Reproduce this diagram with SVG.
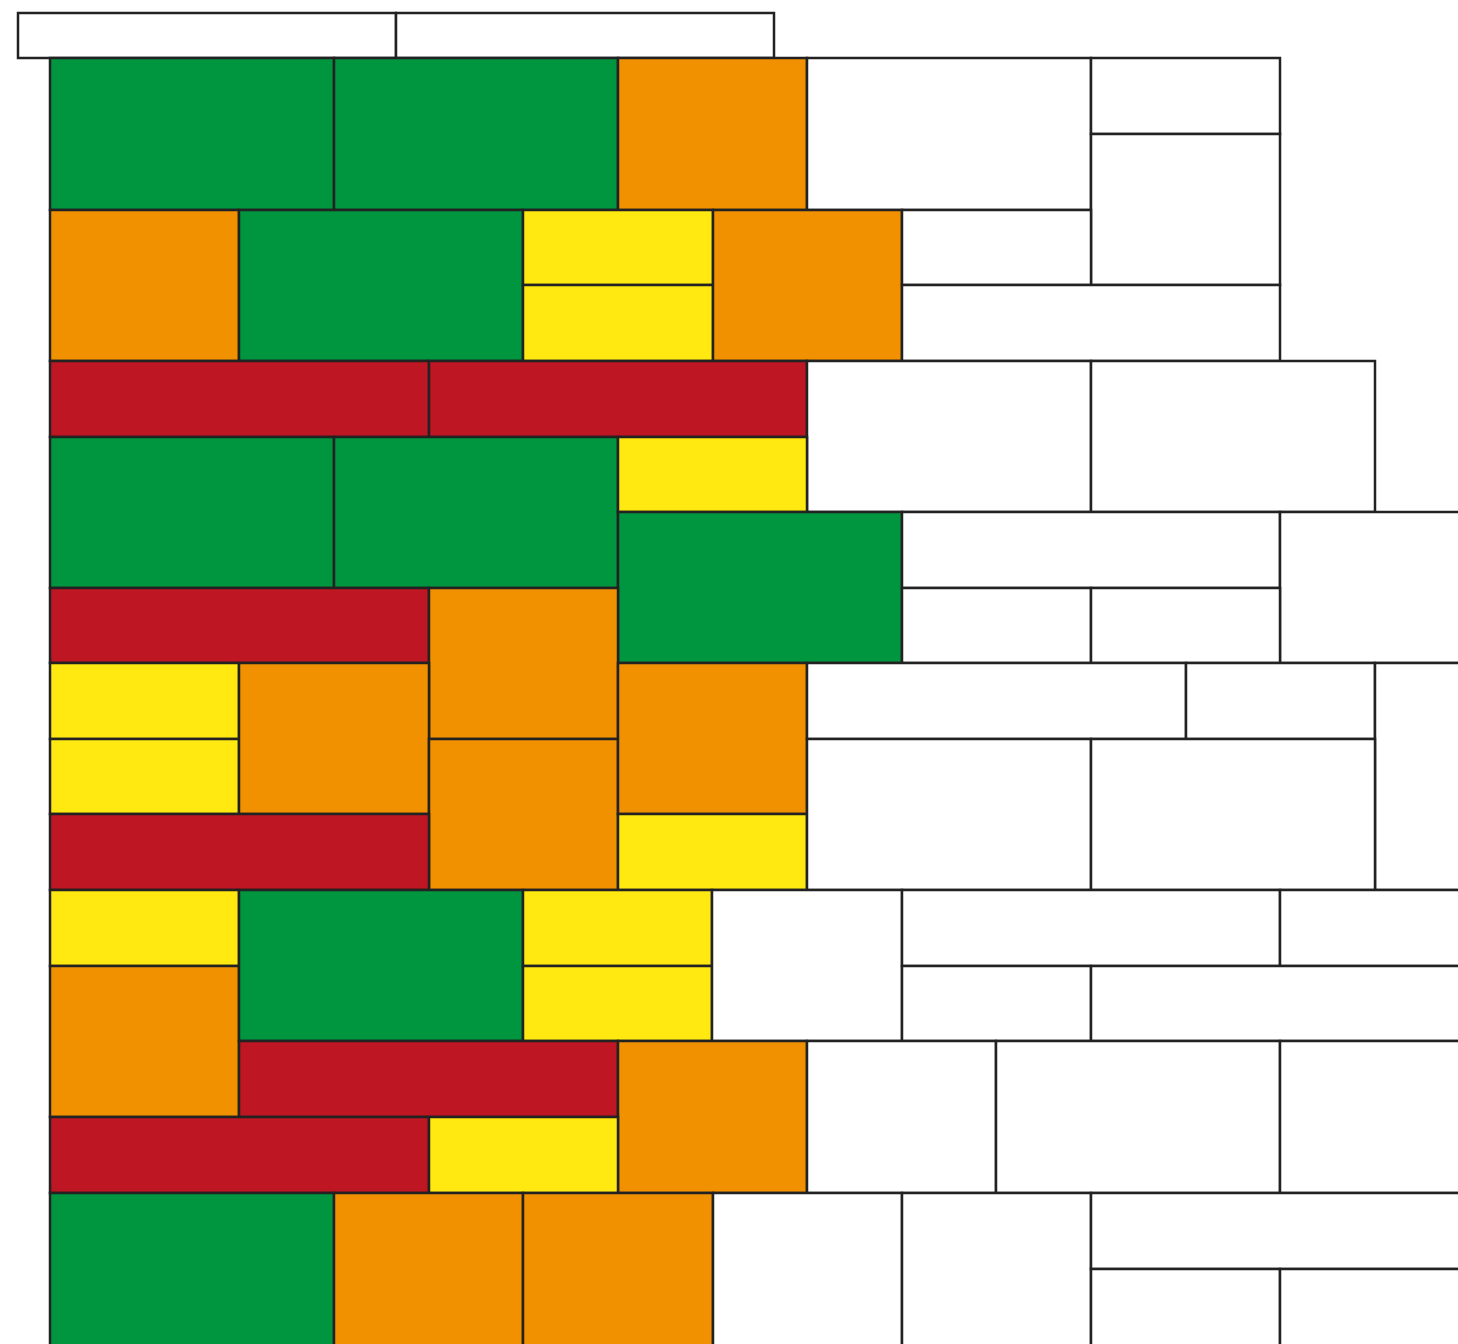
<svg xmlns="http://www.w3.org/2000/svg" width="1458" height="1344" viewBox="0 0 1458 1344">
<style>
rect{stroke:#222;stroke-width:2.5}
.g{fill:#009640}.o{fill:#F29100}.y{fill:#FFE911}.r{fill:#BE1622}.w{fill:#fff}
</style>
<rect width="1458" height="1344" fill="#fff" style="stroke:none"/>
<g id="top">
<rect class="w" x="18" y="13" width="378" height="45"/>
<rect class="w" x="396" y="13" width="378" height="45"/>
</g>
<g id="row1">
<rect class="g" x="50" y="58" width="284" height="152"/>
<rect class="g" x="334" y="58" width="284" height="152"/>
<rect class="o" x="618" y="58" width="189" height="152"/>
<rect class="w" x="807" y="58" width="284" height="152"/>
<rect class="w" x="1091" y="58" width="189" height="76"/>
<rect class="w" x="1091" y="134" width="189" height="151"/>
</g>
<g id="row2">
<rect class="o" x="50" y="210" width="189" height="151"/>
<rect class="g" x="239" y="210" width="284" height="151"/>
<rect class="y" x="523" y="210" width="190" height="75"/>
<rect class="y" x="523" y="285" width="190" height="76"/>
<rect class="o" x="713" y="210" width="189" height="151"/>
<rect class="w" x="902" y="210" width="189" height="75"/>
<rect class="w" x="902" y="285" width="378" height="76"/>
</g>
<g id="row3">
<rect class="r" x="50" y="361" width="379" height="76"/>
<rect class="r" x="429" y="361" width="378" height="76"/>
<rect class="w" x="807" y="361" width="284" height="151"/>
<rect class="w" x="1091" y="361" width="284" height="151"/>
</g>
<g id="row4">
<rect class="g" x="50" y="437" width="284" height="151"/>
<rect class="g" x="334" y="437" width="284" height="151"/>
<rect class="y" x="618" y="437" width="189" height="75"/>
<rect class="g" x="618" y="512" width="284" height="151"/>
<rect class="w" x="902" y="512" width="378" height="76"/>
<rect class="w" x="1280" y="512" width="200" height="151"/>
<rect class="w" x="902" y="588" width="189" height="75"/>
<rect class="w" x="1091" y="588" width="189" height="75"/>
</g>
<g id="row5">
<rect class="r" x="50" y="588" width="379" height="75"/>
<rect class="o" x="429" y="588" width="189" height="151"/>
<rect class="y" x="50" y="663" width="189" height="76"/>
<rect class="y" x="50" y="739" width="189" height="75"/>
<rect class="o" x="239" y="663" width="190" height="151"/>
<rect class="o" x="429" y="739" width="189" height="151"/>
<rect class="o" x="618" y="663" width="189" height="151"/>
<rect class="y" x="618" y="814" width="189" height="76"/>
<rect class="w" x="807" y="663" width="379" height="76"/>
<rect class="w" x="1186" y="663" width="189" height="76"/>
<rect class="w" x="1375" y="663" width="100" height="227"/>
<rect class="w" x="807" y="739" width="284" height="151"/>
<rect class="w" x="1091" y="739" width="284" height="151"/>
<rect class="r" x="50" y="814" width="379" height="76"/>
</g>
<g id="row6">
<rect class="y" x="50" y="890" width="189" height="76"/>
<rect class="o" x="50" y="966" width="189" height="151"/>
<rect class="g" x="239" y="890" width="284" height="151"/>
<rect class="y" x="523" y="890" width="189" height="76"/>
<rect class="y" x="523" y="966" width="189" height="75"/>
<rect class="w" x="712" y="890" width="190" height="151"/>
<rect class="w" x="902" y="890" width="378" height="76"/>
<rect class="w" x="1280" y="890" width="200" height="76"/>
<rect class="w" x="902" y="966" width="189" height="75"/>
<rect class="w" x="1091" y="966" width="389" height="75"/>
</g>
<g id="row7">
<rect class="r" x="239" y="1041" width="379" height="76"/>
<rect class="o" x="618" y="1041" width="189" height="152"/>
<rect class="w" x="807" y="1041" width="189" height="152"/>
<rect class="w" x="996" y="1041" width="284" height="152"/>
<rect class="w" x="1280" y="1041" width="200" height="152"/>
<rect class="r" x="50" y="1117" width="379" height="76"/>
<rect class="y" x="429" y="1117" width="189" height="76"/>
</g>
<g id="row8">
<rect class="g" x="50" y="1193" width="284" height="170"/>
<rect class="o" x="334" y="1193" width="189" height="170"/>
<rect class="o" x="523" y="1193" width="190" height="170"/>
<rect class="w" x="713" y="1193" width="189" height="170"/>
<rect class="w" x="902" y="1193" width="189" height="170"/>
<rect class="w" x="1091" y="1193" width="389" height="76"/>
<rect class="w" x="1091" y="1269" width="189" height="94"/>
<rect class="w" x="1280" y="1269" width="200" height="94"/>
</g>
</svg>
